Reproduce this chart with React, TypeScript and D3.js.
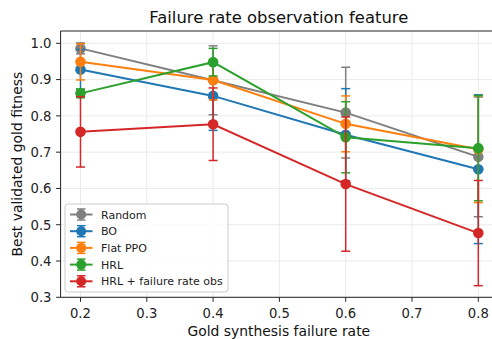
import React from "react";
import * as d3 from "d3";

const failureRates = [0.2, 0.4, 0.6, 0.8];
const seriesNames = ["Random", "BO", "Flat PPO", "HRL", "HRL + failure rate obs"];
const seriesColors = ["#7f7f7f", "#1f77b4", "#ff7f0e", "#2ca02c", "#d62728"];
const randomMean = [0.986, 0.898, 0.809, 0.687];
const randomErr = [0.015, 0.095, 0.125, 0.165];
const boMean = [0.928, 0.855, 0.748, 0.653];
const boErr = [0.055, 0.095, 0.127, 0.205];
const ppoMean = [0.949, 0.899, 0.778, 0.708];
const ppoErr = [0.05, 0.055, 0.077, 0.147];
const hrlMean = [0.862, 0.948, 0.741, 0.711];
const hrlErr = [0.012, 0.038, 0.098, 0.145];
const hrlObsMean = [0.756, 0.777, 0.612, 0.477];
const hrlObsErr = [0.097, 0.1, 0.185, 0.145];
const xTicks = [0.2, 0.3, 0.4, 0.5, 0.6, 0.7, 0.8];
const yTicks = [0.3, 0.4, 0.5, 0.6, 0.7, 0.8, 0.9, 1.0];

const means = [randomMean, boMean, ppoMean, hrlMean, hrlObsMean];
const errs = [randomErr, boErr, ppoErr, hrlErr, hrlObsErr];

const W = 492;
const H = 339;
const left = 60.6;
const right = 498.2;
const top = 31;
const bottom = 297.3;
const font = "DejaVu Sans";

export default function App() {
  const x = d3.scaleLinear().domain([0.17, 0.83]).range([left, right]);
  const y = d3.scaleLinear().domain([0.3, 1.0]).range([bottom, 43.3]);
  const line = d3
    .line<number>()
    .x((_, i) => x(failureRates[i]))
    .y((d) => y(d));
  const cap = 4.5;
  const legendX = 65;
  const legendY = 204;
  const rowH = 16.7;

  return (
    <svg
      width={W}
      height={H}
      style={{ position: "absolute", left: 0, top: 0, background: "#fff" }}
      fontFamily={font}
    >
      <rect x={0} y={0} width={W} height={H} fill="#fff" />
      {/* grid */}
      {xTicks.map((t) => (
        <line key={"gx" + t} x1={x(t)} x2={x(t)} y1={top} y2={bottom} stroke="#ebebeb" strokeWidth={1} />
      ))}
      {yTicks.map((t) => (
        <line key={"gy" + t} x1={left} x2={right} y1={y(t)} y2={y(t)} stroke="#ebebeb" strokeWidth={1} />
      ))}
      {/* series */}
      {means.map((m, si) => {
        const c = seriesColors[si];
        return (
          <g key={seriesNames[si]}>
            {m.map((v, i) => {
              const cx = x(failureRates[i]);
              const lo = y(v - errs[si][i]);
              const hi = y(v + errs[si][i]);
              return (
                <g key={i} stroke={c} strokeWidth={1.5}>
                  <line x1={cx} x2={cx} y1={lo} y2={hi} />
                  <line x1={cx - cap} x2={cx + cap} y1={lo} y2={lo} />
                  <line x1={cx - cap} x2={cx + cap} y1={hi} y2={hi} />
                </g>
              );
            })}
            <path d={line(m) || ""} fill="none" stroke={c} strokeWidth={2} />
            {m.map((v, i) => (
              <circle key={"p" + i} cx={x(failureRates[i])} cy={y(v)} r={5.3} fill={c} />
            ))}
          </g>
        );
      })}
      {/* spines */}
      <line x1={left} x2={left} y1={top} y2={bottom} stroke="#222" strokeWidth={1} />
      <line x1={left} x2={right} y1={bottom} y2={bottom} stroke="#222" strokeWidth={1} />
      <line x1={left} x2={right} y1={top} y2={top} stroke="#222" strokeWidth={1} />
      {/* ticks */}
      {xTicks.map((t) => (
        <g key={"tx" + t}>
          <line x1={x(t)} x2={x(t)} y1={bottom} y2={bottom + 4.5} stroke="#222" strokeWidth={1} />
          <text x={x(t)} y={317.5} textAnchor="middle" fontSize={13.2} fill="#222">
            {t.toFixed(1)}
          </text>
        </g>
      ))}
      {yTicks.map((t) => (
        <g key={"ty" + t}>
          <line x1={left - 4.5} x2={left} y1={y(t)} y2={y(t)} stroke="#222" strokeWidth={1} />
          <text x={51.5} y={y(t) + 4.8} textAnchor="end" fontSize={13.2} fill="#222">
            {t.toFixed(1)}
          </text>
        </g>
      ))}
      {/* labels */}
      <text x={278.8} y={23.3} textAnchor="middle" fontSize={16.4} fill="#111">
        Failure rate observation feature
      </text>
      <text x={278.8} y={335.5} textAnchor="middle" fontSize={13.9} fill="#111">
        Gold synthesis failure rate
      </text>
      <text
        transform={`translate(21.7, ${(top + bottom) / 2}) rotate(-90)`}
        textAnchor="middle"
        fontSize={13.9}
        fill="#111"
      >
        Best validated gold fitness
      </text>
      {/* legend */}
      <rect
        x={legendX}
        y={legendY}
        width={163}
        height={88}
        rx={3}
        fill="#fff"
        fillOpacity={0.8}
        stroke="#cccccc"
        strokeWidth={1}
      />
      {seriesNames.map((n, i) => {
        const ly = legendY + 10.5 + i * rowH;
        const c = seriesColors[i];
        return (
          <g key={"lg" + n}>
            <line x1={70} x2={92.5} y1={ly} y2={ly} stroke={c} strokeWidth={2} />
            <line x1={81.2} x2={81.2} y1={ly - 5.5} y2={ly + 5.5} stroke={c} strokeWidth={1.5} />
            <line x1={77} x2={85.5} y1={ly - 5.5} y2={ly - 5.5} stroke={c} strokeWidth={1.5} />
            <line x1={77} x2={85.5} y1={ly + 5.5} y2={ly + 5.5} stroke={c} strokeWidth={1.5} />
            <circle cx={81.2} cy={ly} r={5} fill={c} />
            <text x={101} y={ly + 4} fontSize={11} fill="#222">
              {n}
            </text>
          </g>
        );
      })}
    </svg>
  );
}
